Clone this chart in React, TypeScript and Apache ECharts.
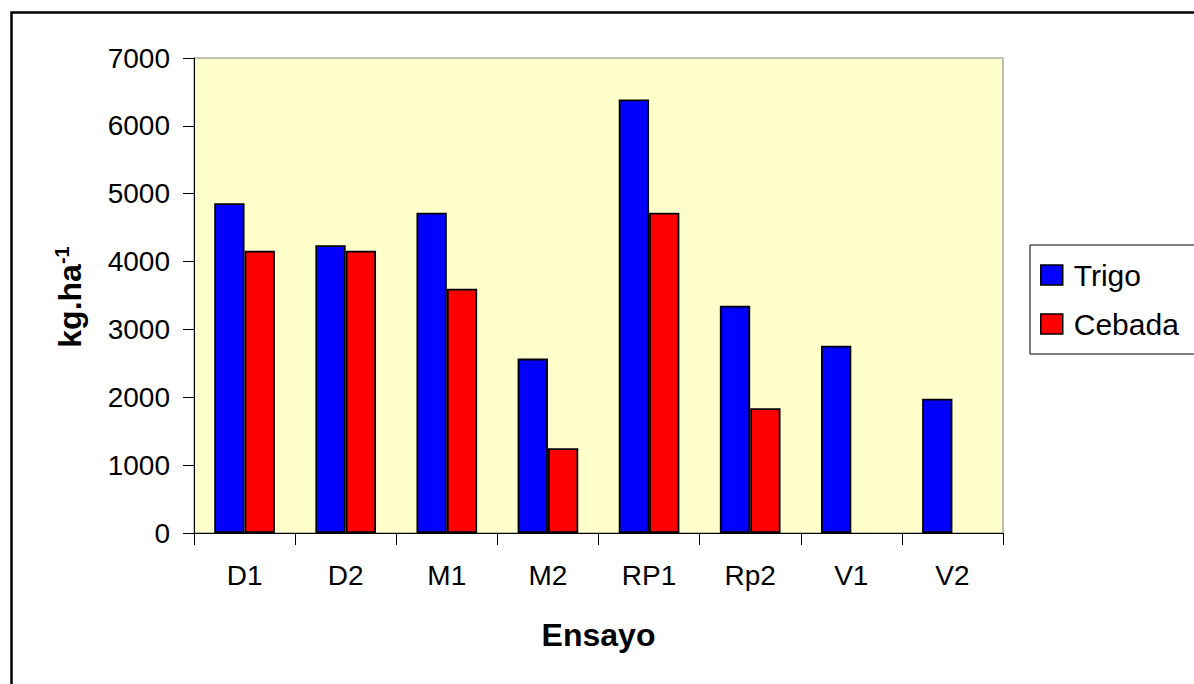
import React, { useEffect, useRef } from "react";
import * as echarts from "echarts";

const categories = ["D1", "D2", "M1", "M2", "RP1", "Rp2", "V1", "V2"];
const trigo = [4860, 4240, 4720, 2570, 6390, 3350, 2760, 1980];
const cebada: (number | null)[] = [4160, 4160, 3600, 1250, 4720, 1840, null, null];
const seriesNames = ["Trigo", "Cebada"];
const yTicks = { min: 0, max: 7000, interval: 1000 };

const FONT = '"Liberation Sans", Arial, sans-serif';

export default function App() {
  const ref = useRef<HTMLDivElement>(null);
  useEffect(() => {
    document.body.style.margin = "0";
    const chart = echarts.init(ref.current!, undefined, { renderer: "svg" });
    chart.setOption({
      animation: false,
      backgroundColor: "#ffffff",
      textStyle: { fontFamily: FONT },
      grid: {
        left: 194,
        top: 58,
        right: 191,
        bottom: 151,
        show: true,
        backgroundColor: "#FFFFCC",
        borderColor: "#808080",
        borderWidth: 1,
      },
      legend: {
        orient: "vertical",
        left: 1030,
        top: 245,
        borderColor: "#000",
        borderWidth: 1,
        padding: [15, 40, 15, 10],
        itemGap: 19,
        itemWidth: 22,
        itemHeight: 20,
        icon: "rect",
        itemStyle: { borderColor: "#000", borderWidth: 1.5 },
        textStyle: { fontSize: 30, color: "#000", fontFamily: FONT, padding: [0, 0, 0, 6] },
        data: seriesNames,
      },
      xAxis: {
        type: "category",
        data: categories,
        name: "Ensayo",
        nameLocation: "middle",
        nameGap: 86,
        nameTextStyle: { fontSize: 32, fontWeight: "bold", color: "#000", fontFamily: FONT },
        axisLine: { show: true, lineStyle: { color: "#000", width: 1 } },
        axisTick: { show: true, length: 12, lineStyle: { color: "#000" } },
        axisLabel: { fontSize: 28, color: "#000", margin: 28, fontFamily: FONT },
      },
      yAxis: {
        type: "value",
        min: yTicks.min,
        max: yTicks.max,
        interval: yTicks.interval,
        axisLine: { show: true, lineStyle: { color: "#000", width: 1 } },
        axisTick: { show: true, length: 11, lineStyle: { color: "#000" } },
        splitLine: { show: false },
        axisLabel: {
          fontSize: 28,
          color: "#000",
          margin: 24,
          fontFamily: FONT,
          formatter: (v: number) => String(v),
        },
      },
      series: [
        {
          name: seriesNames[0],
          type: "bar",
          data: trigo,
          barGap: "0%",
          barCategoryGap: "40%",
          itemStyle: { color: "#0000FF", borderColor: "#000", borderWidth: 1.8 },
        },
        {
          name: seriesNames[1],
          type: "bar",
          data: cebada,
          barGap: "0%",
          barCategoryGap: "40%",
          itemStyle: { color: "#FF0000", borderColor: "#000", borderWidth: 1.8 },
        },
      ],
      graphic: [
        {
          type: "rect",
          left: 9,
          top: 10,
          shape: { x: 0, y: 0, width: 1300, height: 800 },
          style: { fill: "none", stroke: "#000", lineWidth: 2.5 },
          silent: true,
        },
        {
          type: "text",
          x: 70,
          y: 297,
          rotation: Math.PI / 2,
          style: {
            text: "{a|kg.ha}{s|-1}",
            align: "center",
            verticalAlign: "middle",
            fill: "#000",
            rich: {
              a: { fontSize: 32, fontWeight: "bold", fontFamily: FONT, fill: "#000" },
              s: { fontSize: 20, fontWeight: "bold", fontFamily: FONT, fill: "#000", padding: [0, 0, 16, 0] },
            },
          },
        },
      ],
    });
    return () => chart.dispose();
  }, []);
  return <div ref={ref} style={{ position: "fixed", left: 0, top: 0, width: 1194, height: 684 }} />;
}
